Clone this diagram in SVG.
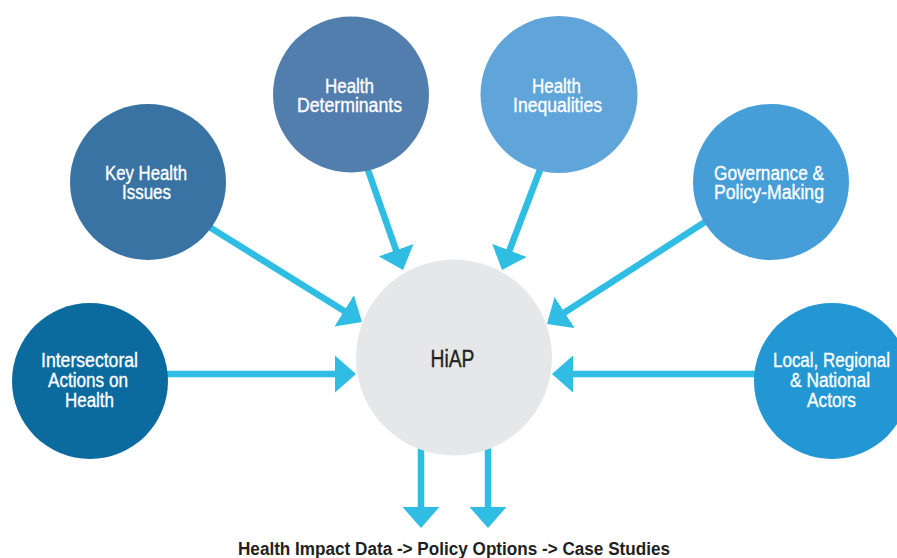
<svg xmlns="http://www.w3.org/2000/svg" width="897" height="558" viewBox="0 0 897 558">
<style>
.lbl{font-family:"Liberation Sans",Arial,sans-serif;font-size:19.5px;fill:#ffffff;stroke:#ffffff;stroke-width:0.35;text-anchor:middle}
.hub{font-family:"Liberation Sans",Arial,sans-serif;font-size:23px;fill:#231f20;stroke:#231f20;stroke-width:0.35;text-anchor:middle}
.foot{font-family:"Liberation Sans",Arial,sans-serif;font-size:18px;font-weight:bold;fill:#231f20;text-anchor:middle}
.conn{stroke:#2fbde3;stroke-width:6.5;fill:none;marker-end:url(#ah)}
</style>
<defs>
<marker id="ah" viewBox="0 0 21 37" markerWidth="21" markerHeight="37" markerUnits="userSpaceOnUse" refX="1" refY="18.5" orient="auto">
<path d="M0,0 L21,18.5 L0,37 Z" fill="#2fbde3"/>
</marker>
</defs>
<rect width="897" height="558" fill="#ffffff"/>
<g id="connectors">
<line class="conn" x1="150" y1="374" x2="336" y2="374"/>
<line class="conn" x1="780" y1="374" x2="572" y2="374"/>
<line class="conn" x1="190" y1="215" x2="345" y2="311.4"/>
<line class="conn" x1="362" y1="153" x2="396.4" y2="251.1"/>
<line class="conn" x1="546" y1="154" x2="509.1" y2="251.3"/>
<line class="conn" x1="725" y1="209" x2="563.8" y2="313.1"/>
<line class="conn" x1="421" y1="440" x2="421" y2="508"/>
<line class="conn" x1="488" y1="440" x2="488" y2="508"/>
</g>
<g id="hiap">
<circle cx="454" cy="357.5" r="98" fill="#e6e7e8"/>
<text class="hub" x="452.5" y="367" textLength="44" lengthAdjust="spacingAndGlyphs">HiAP</text>
</g>
<g id="intersectoral">
<circle cx="90" cy="381" r="78" fill="#0b6a9e"/>
<text class="lbl" x="89.5" y="367" textLength="97" lengthAdjust="spacingAndGlyphs">Intersectoral</text>
<text class="lbl" x="88" y="387" textLength="80" lengthAdjust="spacingAndGlyphs">Actions on</text>
<text class="lbl" x="89.5" y="407" textLength="49" lengthAdjust="spacingAndGlyphs">Health</text>
</g>
<g id="key-health">
<circle cx="148" cy="182" r="78" fill="#3973a3"/>
<text class="lbl" x="146" y="180" textLength="82" lengthAdjust="spacingAndGlyphs">Key Health</text>
<text class="lbl" x="146.5" y="199" textLength="49" lengthAdjust="spacingAndGlyphs">Issues</text>
</g>
<g id="determinants">
<circle cx="351" cy="94.5" r="78" fill="#527ead"/>
<text class="lbl" x="349.5" y="93" textLength="49" lengthAdjust="spacingAndGlyphs">Health</text>
<text class="lbl" x="349.5" y="112" textLength="105" lengthAdjust="spacingAndGlyphs">Determinants</text>
</g>
<g id="inequalities">
<circle cx="559" cy="94.5" r="78.5" fill="#5fa5da"/>
<text class="lbl" x="556.5" y="93" textLength="49" lengthAdjust="spacingAndGlyphs">Health</text>
<text class="lbl" x="557.5" y="112" textLength="89" lengthAdjust="spacingAndGlyphs">Inequalities</text>
</g>
<g id="governance">
<circle cx="771" cy="182" r="78" fill="#469ed8"/>
<text class="lbl" x="769" y="180" textLength="110" lengthAdjust="spacingAndGlyphs">Governance &amp;</text>
<text class="lbl" x="769" y="199" textLength="110" lengthAdjust="spacingAndGlyphs">Policy-Making</text>
</g>
<g id="actors">
<circle cx="832" cy="381" r="78" fill="#2397d3"/>
<text class="lbl" x="831.5" y="367" textLength="117" lengthAdjust="spacingAndGlyphs">Local, Regional</text>
<text class="lbl" x="830" y="387" textLength="80" lengthAdjust="spacingAndGlyphs">&amp; National</text>
<text class="lbl" x="831.5" y="407" textLength="49" lengthAdjust="spacingAndGlyphs">Actors</text>
</g>
<text class="foot" x="454" y="555" textLength="432" lengthAdjust="spacingAndGlyphs">Health Impact Data -&gt; Policy Options -&gt; Case Studies</text>
</svg>
